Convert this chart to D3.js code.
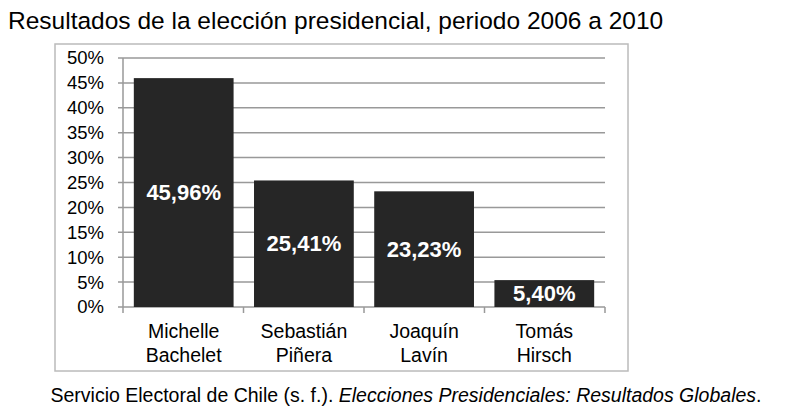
<!DOCTYPE html>
<html><head><meta charset="utf-8">
<script src="https://cdn.jsdelivr.net/npm/d3@7"></script>
<style>body{margin:0;background:#fff;font-family:"Liberation Sans",Arial,sans-serif}</style>
</head><body>
<svg id="chart" width="790" height="418"></svg>
<script>
const names = [["Michelle","Bachelet"],["Sebastián","Piñera"],["Joaquín","Lavín"],["Tomás","Hirsch"]]
const values = [45.96, 25.41, 23.23, 5.40]
const valueLabels = ["45,96%","25,41%","23,23%","5,40%"]
const yTicks = [0,5,10,15,20,25,30,35,40,45,50]

const svg = d3.select("#chart")
const margin = {top: 58, right: 185, bottom: 111, left: 123}
const width = 790 - margin.left - margin.right
const height = 418 - margin.top - margin.bottom

svg.append("text").attr("x", 8).attr("y", 29)
    .style("font-size", "24.5px").text("Resultados de la elección presidencial, periodo 2006 a 2010")

svg.append("rect").attr("x", 55).attr("y", 44).attr("width", 573).attr("height", 327)
    .attr("fill", "none").attr("stroke", "#bbb").attr("stroke-width", 1.5)

const g = svg.append("g").attr("transform", `translate(${margin.left},${margin.top})`)

const x = d3.scaleBand().domain(d3.range(values.length)).range([0, width]).paddingInner(0.17).paddingOuter(0.09)
const y = d3.scaleLinear().domain([0, 50]).range([height, 0])

// grid
g.selectAll(".grid").data(yTicks).join("line")
    .attr("x1", -5).attr("x2", width).attr("y1", d => y(d)).attr("y2", d => y(d))
    .attr("stroke", "#999").attr("stroke-width", 1.5)

g.append("line").attr("x1", 0).attr("x2", 0).attr("y1", 0).attr("y2", height).attr("stroke", "#999").attr("stroke-width", 1.5)

// category ticks
const step = width / values.length
g.selectAll(".ct").data(d3.range(values.length + 1)).join("line")
    .attr("x1", d => d * step).attr("x2", d => d * step).attr("y1", height).attr("y2", height + 6)
    .attr("stroke", "#999").attr("stroke-width", 1.5)

g.selectAll(".yl").data(yTicks).join("text")
    .attr("x", -19).attr("y", d => y(d)).attr("dy", "0.35em").attr("text-anchor", "end")
    .style("font-size", "18.5px").text(d => d + "%")

g.selectAll(".bar").data(values).join("rect")
    .attr("x", (d, i) => x(i)).attr("width", x.bandwidth())
    .attr("y", d => y(d)).attr("height", d => height - y(d)).attr("fill", "#262626")

g.selectAll(".vl").data(values).join("text")
    .attr("x", (d, i) => x(i) + x.bandwidth() / 2).attr("y", d => y(d / 2)).attr("dy", "0.35em")
    .attr("text-anchor", "middle").attr("fill", "#fff").style("font-size", "22px").style("font-weight", "bold")
    .text((d, i) => valueLabels[i])

names.forEach((n, i) => {
  n.forEach((line, j) => {
    g.append("text").attr("x", x(i) + x.bandwidth() / 2).attr("y", height + 31 + j * 24)
      .attr("text-anchor", "middle").style("font-size", "19.5px").text(line)
  })
})

const cap = svg.append("text").attr("x", 406).attr("y", 402).attr("text-anchor", "middle").style("font-size", "19.5px")
cap.append("tspan").text("Servicio Electoral de Chile (s. f.). ")
cap.append("tspan").style("font-style", "italic").text("Elecciones Presidenciales: Resultados Globales")
cap.append("tspan").text(".")
</script>
</body></html>
